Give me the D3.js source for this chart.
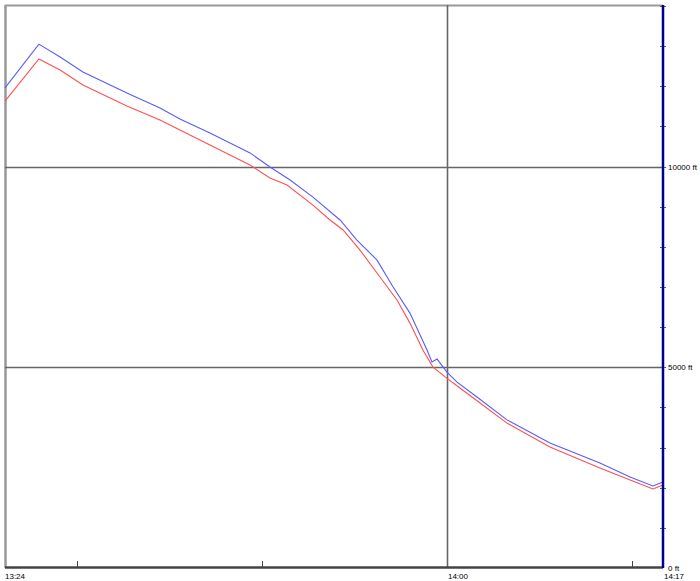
<!DOCTYPE html>
<html><head><meta charset="utf-8">
<script src="https://cdn.jsdelivr.net/npm/d3@7"></script>
<style>body{margin:0;background:#fff}svg{display:block}text{font-family:"Liberation Sans",Arial,sans-serif;font-size:8px;fill:#000}</style>
</head><body><svg id="c" width="700" height="581"></svg>
<script>
const timeDomain = ["13:24:10", "14:17:31"];
const altDomain = [0, 14000];
const blueTimes = ["13:24:10","13:26:55","13:28:38","13:30:29","13:34:03","13:36:44","13:38:21","13:40:47","13:44:02","13:45:39","13:47:17","13:49:08","13:51:20","13:52:42","13:54:20","13:55:38","13:57:00","13:58:23","13:58:47","13:59:12","14:00:00","14:00:49","14:02:26","14:04:52","14:08:21","14:12:24","14:14:51","14:16:42","14:17:31"];
const blueAlt = [11960,13050,12730,12355,11830,11460,11185,10835,10340,9990,9665,9240,8670,8170,7670,7000,6350,5430,5130,5205,4880,4630,4260,3690,3115,2615,2265,2045,2140];
const redTimes = ["13:24:10","13:26:55","13:28:38","13:30:29","13:34:03","13:36:44","13:38:21","13:40:47","13:44:02","13:45:39","13:47:02","13:49:08","13:50:31","13:51:35","13:52:57","13:54:34","13:55:57","13:57:00","13:58:03","13:58:52","13:59:51","14:01:03","14:02:41","14:04:52","14:08:21","14:12:24","14:14:51","14:16:42","14:17:31"];
const redAlt = [11630,12680,12405,12030,11510,11160,10910,10535,10040,9715,9540,9040,8670,8420,7920,7250,6675,6100,5430,5005,4760,4485,4110,3610,3015,2490,2190,1970,2070];
const gridAlts = [5000, 10000];
const altLabels = ["0 ft", "5000 ft", "10000 ft"];
const altLabelValues = [0, 5000, 10000];
const minorAltTicks = d3.range(1000, 14001, 1000);
const timeLabels = ["13:24", "14:00", "14:17"];
const gridTimes = ["14:00:00"];
const minorTimes = ["13:30:00", "13:45:00", "14:15:00"];

const parse = d3.timeParse("%H:%M:%S");
const svg = d3.select("#c");
const x = d3.scaleTime().domain(timeDomain.map(parse)).range([5, 663]);
const y = d3.scaleLinear().domain(altDomain).range([568, 6]);

// frame
svg.append("line").attr("x1",5).attr("x2",663).attr("y1",5.5).attr("y2",5.5).attr("stroke","#999").attr("stroke-width",2);
svg.append("line").attr("x1",5.5).attr("x2",5.5).attr("y1",5).attr("y2",568).attr("stroke","#999").attr("stroke-width",2.5);

// grid
svg.selectAll(".hg").data(gridAlts).enter().append("line")
  .attr("x1",5).attr("x2",663).attr("y1",d=>Math.round(y(d))+0.5).attr("y2",d=>Math.round(y(d))+0.5)
  .attr("stroke","#666").attr("stroke-width",1.6);
svg.selectAll(".vg").data(gridTimes).enter().append("line")
  .attr("x1",d=>Math.round(x(parse(d)))+0.5).attr("x2",d=>Math.round(x(parse(d)))+0.5).attr("y1",5).attr("y2",568)
  .attr("stroke","#666").attr("stroke-width",1.6);

// lines
const line = d3.line().x(d=>x(d[0])).y(d=>y(d[1]));
svg.append("path").datum(blueTimes.map((t,i)=>[parse(t),blueAlt[i]])).attr("d",line)
  .attr("fill","none").attr("stroke","#5a5aff").attr("stroke-width",1.1);
svg.append("path").datum(redTimes.map((t,i)=>[parse(t),redAlt[i]])).attr("d",line)
  .attr("fill","none").attr("stroke","#ff5050").attr("stroke-width",1.1);

// bottom axis
svg.append("line").attr("x1",5).attr("x2",663).attr("y1",567.5).attr("y2",567.5).attr("stroke","#444").attr("stroke-width",2.5);
svg.selectAll(".mt").data(minorTimes).enter().append("line")
  .attr("x1",d=>Math.round(x(parse(d)))+0.5).attr("x2",d=>Math.round(x(parse(d)))+0.5).attr("y1",561).attr("y2",567)
  .attr("stroke","#444").attr("stroke-width",1);
const tl = [[timeLabels[0], timeDomain[0]], [timeLabels[1], "14:00:00"], [timeLabels[2], timeDomain[1]]];
svg.selectAll(".tl").data(tl).enter().append("text")
  .attr("x",d=>x(parse(d[1]))+(d[0]===timeLabels[0]?0:1)).attr("y",579).text(d=>d[0]);

// right axis
svg.append("line").attr("x1",663).attr("x2",663).attr("y1",5).attr("y2",568).attr("stroke","#000090").attr("stroke-width",2.5);
svg.selectAll(".rt").data(minorAltTicks).enter().append("line")
  .attr("x1",660).attr("x2",666).attr("y1",d=>Math.round(y(d))+0.5).attr("y2",d=>Math.round(y(d))+0.5)
  .attr("stroke","#555").attr("stroke-width",1);
svg.append("line").attr("x1",663).attr("x2",663).attr("y1",5).attr("y2",568).attr("stroke","#000090").attr("stroke-width",2);
svg.selectAll(".al").data(altLabelValues).enter().append("text")
  .attr("x",668).attr("y",d=>y(d)+3).text((d,i)=>altLabels[i]);
</script></body></html>
